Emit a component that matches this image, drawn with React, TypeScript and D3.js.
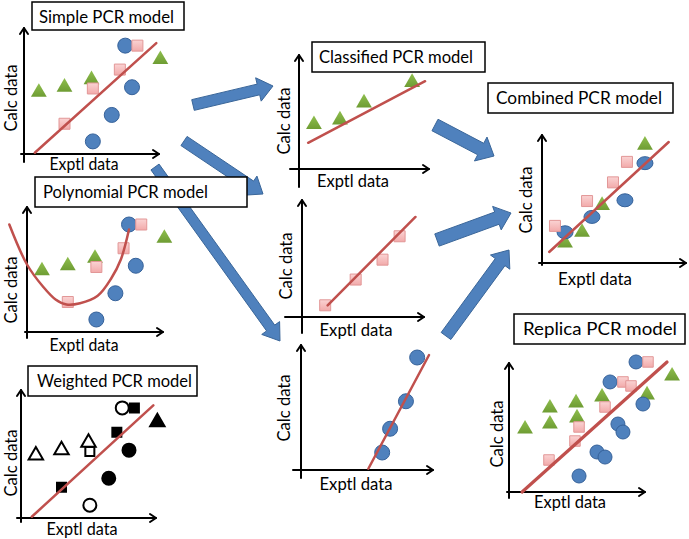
import React from 'react';
import * as d3 from 'd3';

// ---------- DATA (values in % of each panel's axis length) ----------
// Shared by Simple, Polynomial and Weighted panels
const baseCircleX = [75, 80, 65, 51];
const baseCircleY = [86, 53, 31, 10];
const baseSquareX = [84, 71, 51, 30];
const baseSquareY = [86, 67, 52, 24];
const baseTriangleX = [11, 30, 50, 101];
const baseTriangleY = [49, 53, 59, 75];
const baseFitX = [8, 98];
const baseFitY = [1, 88];

const polyCurveX = [-13, 0, 12, 21, 29, 39, 52, 62, 69, 75];
const polyCurveY = [86, 54, 36, 26, 22, 23, 29, 43, 58, 82];

const weightedCircleFilled = [false, true, true, false];
const weightedSquareFilled = [true, true, false, true];
const weightedTriangleFilled = [false, false, false, true];

const classTriangleX = [11.5, 31.5, 50, 87];
const classTriangleY = [39, 43, 58, 76];
const classFitX = [7, 97];
const classFitY = [23, 77];

const squarePanelX = [19, 44, 66, 80];
const squarePanelY = [10, 32, 49, 69];
const squareFitX = [21, 93];
const squareFitY = [10, 85.5];

const circlePanelX = [88, 79.5, 67.5, 61.5];
const circlePanelY = [90, 55, 33, 14];
const circleFitX = [51, 97];
const circleFitY = [1, 92];

const combCircleX = [71.5, 57.6, 34.7, 16];
const combCircleY = [78, 49, 36, 24];
const combSquareX = [59, 49.3, 31.3, 9];
const combSquareY = [79, 63, 48.4, 29];
const combTriangleX = [71.5, 41.7, 27.8, 16];
const combTriangleY = [92, 45, 24, 15.6];
const combFitX = [5, 88];
const combFitY = [8.6, 94.5];

const repCircleX = [93.4, 74.3, 98.5, 80.1, 83.8, 64.7, 70.6, 51.5];
const repCircleY = [100.8, 85.3, 68.2, 52.7, 46.5, 31, 27.1, 12.4];
const repSquareX = [102.2, 83.8, 89.7, 70.6, 51.5, 48.5, 29.4];
const repSquareY = [100.8, 85.3, 82.2, 65.9, 50.4, 39.5, 24.8];
const repTriangleX = [119.9, 101.5, 68.4, 49.3, 30.1, 50, 30.1, 11.8];
const repTriangleY = [89.9, 75.2, 73.6, 69, 65.1, 57.4, 52.7, 48.8];
const repFitX = [9.6, 116.2];
const repFitY = [0, 100.8];

const panelTitles = [
  'Simple PCR model',
  'Polynomial PCR model',
  'Weighted PCR model',
  'Classified PCR model',
  'Combined PCR model',
  'Replica PCR model',
];
const yLabel = 'Calc data';
const xLabel = 'Exptl data';

// ---------- LAYOUT ----------
const W = 689;
const H = 539;
const FONT = "Lato, 'Open Sans', 'DejaVu Sans', sans-serif";
const FS = 18;

const C_CIRCLE = '#4F81BD';
const C_CIRCLE_S = '#36629A';
const C_SQUARE_S = '#E29797';
const C_LINE = '#C0504D';
const C_ARROW = '#4F81BD';
const C_ARROW_S = '#3A6699';

type Layout = {
  ox: number; oy: number; lenX: number; lenY: number; overL: number; overB: number;
  calcX: number; calcY: number; exX: number; exY: number; exW: number;
};

const L1: Layout = { ox: 24, oy: 154, lenX: 135, lenY: 126, overL: 3, overB: 8, calcX: 17, calcY: 98, exX: 84, exY: 170, exW: 69 };
const L2: Layout = { ox: 27, oy: 332, lenX: 136, lenY: 125, overL: 2, overB: 6, calcX: 17, calcY: 290, exX: 84, exY: 351, exW: 69 };
const L3: Layout = { ox: 21, oy: 518, lenX: 135, lenY: 128, overL: 4, overB: 4, calcX: 17, calcY: 463, exX: 82, exY: 535, exW: 71 };
const L4: Layout = { ox: 299, oy: 169, lenX: 130, lenY: 114, overL: 9, overB: 18, calcX: 290, calcY: 121, exX: 353, exY: 187, exW: 72 };
const L5: Layout = { ox: 302, oy: 317, lenX: 122, lenY: 117, overL: 17, overB: 16, calcX: 292, calcY: 266, exX: 356, exY: 336, exW: 73 };
const L6: Layout = { ox: 301, oy: 470, lenX: 132, lenY: 125, overL: 8, overB: 8, calcX: 290, calcY: 408, exX: 356, exY: 490, exW: 73 };
const L7: Layout = { ox: 542, oy: 263, lenX: 144, lenY: 128, overL: 3, overB: 2, calcX: 532, calcY: 200, exX: 595, exY: 285, exW: 74 };
const L8: Layout = { ox: 509, oy: 492, lenX: 136, lenY: 129, overL: 2, overB: 6, calcX: 503, calcY: 434, exX: 570, exY: 508, exW: 72 };

// title boxes: [x0, y0, x1, y1, textX, baseline, textWidth]
const titleBoxes: number[][] = [
  [32, 2, 184, 30, 39, 23, 135],
  [35, 177, 247, 207, 43, 198, 165],
  [28, 366, 197, 396, 37, 387, 155],
  [312, 42, 485, 72, 319, 63, 154],
  [488, 83, 673, 113, 496, 104, 166],
  [514, 314, 685, 344, 523, 335, 154],
];

// arrows: [x1, y1, x2, y2, shaftW, headW, headLen]
const arrows: number[][] = [
  [193, 105, 273, 86, 11, 24, 15],
  [184, 141, 263, 194, 11, 23, 15],
  [155, 167, 280, 341, 10, 22, 16],
  [435, 125, 494, 156, 13, 27, 15],
  [437, 240, 511, 213, 13, 25, 15],
  [446, 336, 509, 250, 12, 24, 15],
];

function arrowPoints(a: number[]): string {
  const [x1, y1, x2, y2, w, hw, hl] = a;
  const len = Math.hypot(x2 - x1, y2 - y1);
  const ux = (x2 - x1) / len;
  const uy = (y2 - y1) / len;
  const nx = -uy;
  const ny = ux;
  const bx = x2 - ux * hl;
  const by = y2 - uy * hl;
  const pts = [
    [x1 + nx * w / 2, y1 + ny * w / 2],
    [bx + nx * w / 2, by + ny * w / 2],
    [bx + nx * hw / 2, by + ny * hw / 2],
    [x2, y2],
    [bx - nx * hw / 2, by - ny * hw / 2],
    [bx - nx * w / 2, by - ny * w / 2],
    [x1 - nx * w / 2, y1 - ny * w / 2],
  ];
  return pts.map((p) => p.join(',')).join(' ');
}

const symCircle = (r: number) => d3.symbol().type(d3.symbolCircle).size(Math.PI * r * r)() as string;
const symSquare = (s: number) => d3.symbol().type(d3.symbolSquare).size(s * s)() as string;
const symTriangle = (a: number) => d3.symbol().type(d3.symbolTriangle).size(a)() as string;

function scalesFor(l: Layout) {
  const x = d3.scaleLinear().domain([0, 100]).range([l.ox, l.ox + l.lenX]);
  const y = d3.scaleLinear().domain([0, 100]).range([l.oy, l.oy - l.lenY]);
  return { x, y };
}

function Axes({ l }: { l: Layout }) {
  const { x, y } = scalesFor(l);
  const x0 = x(0) - l.overL;
  const xe = x(100);
  const yb = y(0) + l.overB;
  const yt = y(100);
  return (
    <g stroke="#000" strokeWidth={2} fill="none" strokeLinecap="round" strokeLinejoin="round">
      <line x1={x0} y1={y(0)} x2={xe} y2={y(0)} />
      <line x1={x(0)} y1={yb} x2={x(0)} y2={yt} />
      <path d={`M${xe - 6},${y(0) - 4}L${xe},${y(0)}L${xe - 6},${y(0) + 4}`} />
      <path d={`M${x(0) - 4},${yt + 6}L${x(0)},${yt}L${x(0) + 4},${yt + 6}`} />
    </g>
  );
}

function Labels({ l }: { l: Layout }) {
  return (
    <g fontFamily={FONT} fontSize={FS} fill="#000">
      <text
        transform={`translate(${l.calcX},${l.calcY}) rotate(-90)`}
        textAnchor="middle"
        textLength={67}
        lengthAdjust="spacingAndGlyphs"
      >
        {yLabel}
      </text>
      <text x={l.exX} y={l.exY} textAnchor="middle" textLength={l.exW} lengthAdjust="spacingAndGlyphs">
        {xLabel}
      </text>
    </g>
  );
}

type Pts = { xs: number[]; ys: number[] };

function Markers({ l, tri, circ, sq, circR = 7.5, sqS = 11, triA = 108, ellipse = false }: {
  l: Layout; tri?: Pts; circ?: Pts; sq?: Pts; circR?: number; sqS?: number; triA?: number; ellipse?: boolean;
}) {
  const { x, y } = scalesFor(l);
  return (
    <g>
      {tri && tri.xs.map((v, i) => (
        <path key={'t' + i} d={symTriangle(triA)} transform={`translate(${x(v)},${y(tri.ys[i])})`} fill="url(#gTri)" />
      ))}
      {circ && circ.xs.map((v, i) =>
        ellipse ? (
          <ellipse key={'c' + i} cx={x(v)} cy={y(circ.ys[i])} rx={8} ry={6.5} fill={C_CIRCLE} stroke={C_CIRCLE_S} strokeWidth={1} />
        ) : (
          <path key={'c' + i} d={symCircle(circR)} transform={`translate(${x(v)},${y(circ.ys[i])})`} fill={C_CIRCLE} stroke={C_CIRCLE_S} strokeWidth={1} />
        )
      )}
      {sq && sq.xs.map((v, i) => (
        <path key={'s' + i} d={symSquare(sqS)} transform={`translate(${x(v)},${y(sq.ys[i])})`} fill="url(#gSq)" stroke={C_SQUARE_S} strokeWidth={1} />
      ))}
    </g>
  );
}

function FitLine({ l, xs, ys, width = 2.5, curve = false }: { l: Layout; xs: number[]; ys: number[]; width?: number; curve?: boolean }) {
  const { x, y } = scalesFor(l);
  const pts: [number, number][] = xs.map((v, i) => [v, ys[i]]);
  const gen = d3
    .line<[number, number]>()
    .x((d) => x(d[0]))
    .y((d) => y(d[1]))
    .curve(curve ? d3.curveCatmullRom.alpha(0.5) : d3.curveLinear);
  return <path d={gen(pts) as string} fill="none" stroke={C_LINE} strokeWidth={width} strokeLinecap="round" />;
}

function WeightedMarkers({ l }: { l: Layout }) {
  const { x, y } = scalesFor(l);
  return (
    <g stroke="#000" strokeWidth={2}>
      {baseTriangleX.map((v, i) => (
        <path key={'t' + i} d={symTriangle(90)} transform={`translate(${x(v)},${y(baseTriangleY[i])})`} fill={weightedTriangleFilled[i] ? '#000' : '#fff'} />
      ))}
      {baseCircleX.map((v, i) => (
        <path key={'c' + i} d={symCircle(6.5)} transform={`translate(${x(v)},${y(baseCircleY[i])})`} fill={weightedCircleFilled[i] ? '#000' : '#fff'} />
      ))}
      {baseSquareX.map((v, i) => (
        <path key={'s' + i} d={symSquare(9)} transform={`translate(${x(v)},${y(baseSquareY[i])})`} fill={weightedSquareFilled[i] ? '#000' : '#fff'} />
      ))}
    </g>
  );
}

export default function App() {
  const baseTri = { xs: baseTriangleX, ys: baseTriangleY };
  const baseCirc = { xs: baseCircleX, ys: baseCircleY };
  const baseSq = { xs: baseSquareX, ys: baseSquareY };
  return (
    <svg width={W} height={H} style={{ position: 'absolute', left: 0, top: 0, background: '#fff' }}>
      <defs>
        <linearGradient id="gTri" x1="0" y1="0" x2="0" y2="1">
          <stop offset="0" stopColor="#8FBF4E" />
          <stop offset="1" stopColor="#6E9C33" />
        </linearGradient>
        <linearGradient id="gSq" x1="0" y1="0" x2="0" y2="1">
          <stop offset="0" stopColor="#FAD3D3" />
          <stop offset="1" stopColor="#F2AAAA" />
        </linearGradient>
      </defs>
      <rect x={0} y={0} width={W} height={H} fill="#fff" />

      {/* arrows */}
      <g>
        {arrows.map((a, i) => (
          <polygon key={i} points={arrowPoints(a)} fill={C_ARROW} stroke={C_ARROW_S} strokeWidth={1} strokeLinejoin="miter" />
        ))}
      </g>

      {/* Simple */}
      <Axes l={L1} />
      <Labels l={L1} />
      <Markers l={L1} tri={baseTri} circ={baseCirc} sq={baseSq} />
      <FitLine l={L1} xs={baseFitX} ys={baseFitY} />

      {/* Polynomial */}
      <Axes l={L2} />
      <Labels l={L2} />
      <Markers l={L2} tri={baseTri} circ={baseCirc} sq={baseSq} />
      <FitLine l={L2} xs={polyCurveX} ys={polyCurveY} curve />

      {/* Weighted */}
      <Axes l={L3} />
      <Labels l={L3} />
      <WeightedMarkers l={L3} />
      <FitLine l={L3} xs={baseFitX} ys={baseFitY} />

      {/* Classified */}
      <Axes l={L4} />
      <Labels l={L4} />
      <Markers l={L4} tri={{ xs: classTriangleX, ys: classTriangleY }} />
      <FitLine l={L4} xs={classFitX} ys={classFitY} />

      {/* Squares subset */}
      <Axes l={L5} />
      <Labels l={L5} />
      <Markers l={L5} sq={{ xs: squarePanelX, ys: squarePanelY }} />
      <FitLine l={L5} xs={squareFitX} ys={squareFitY} />

      {/* Circles subset */}
      <Axes l={L6} />
      <Labels l={L6} />
      <Markers l={L6} circ={{ xs: circlePanelX, ys: circlePanelY }} circR={7.5} />
      <FitLine l={L6} xs={circleFitX} ys={circleFitY} />

      {/* Combined */}
      <Axes l={L7} />
      <Labels l={L7} />
      <Markers l={L7} circ={{ xs: combCircleX, ys: combCircleY }} tri={{ xs: combTriangleX, ys: combTriangleY }} sq={{ xs: combSquareX, ys: combSquareY }} ellipse sqS={11} />
      <FitLine l={L7} xs={combFitX} ys={combFitY} />

      {/* Replica */}
      <Axes l={L8} />
      <Labels l={L8} />
      <Markers l={L8} tri={{ xs: repTriangleX, ys: repTriangleY }} circ={{ xs: repCircleX, ys: repCircleY }} sq={{ xs: repSquareX, ys: repSquareY }} circR={7} sqS={10.5} />
      <FitLine l={L8} xs={repFitX} ys={repFitY} width={3.2} />

      {/* title boxes */}
      <g fontFamily={FONT} fontSize={FS}>
        {titleBoxes.map((b, i) => (
          <g key={i}>
            <rect x={b[0]} y={b[1]} width={b[2] - b[0]} height={b[3] - b[1]} fill="#fff" stroke="#000" strokeWidth={1.5} />
            <text x={b[4]} y={b[5]} textLength={b[6]} lengthAdjust="spacingAndGlyphs" fill="#000">
              {panelTitles[i]}
            </text>
          </g>
        ))}
      </g>
    </svg>
  );
}
